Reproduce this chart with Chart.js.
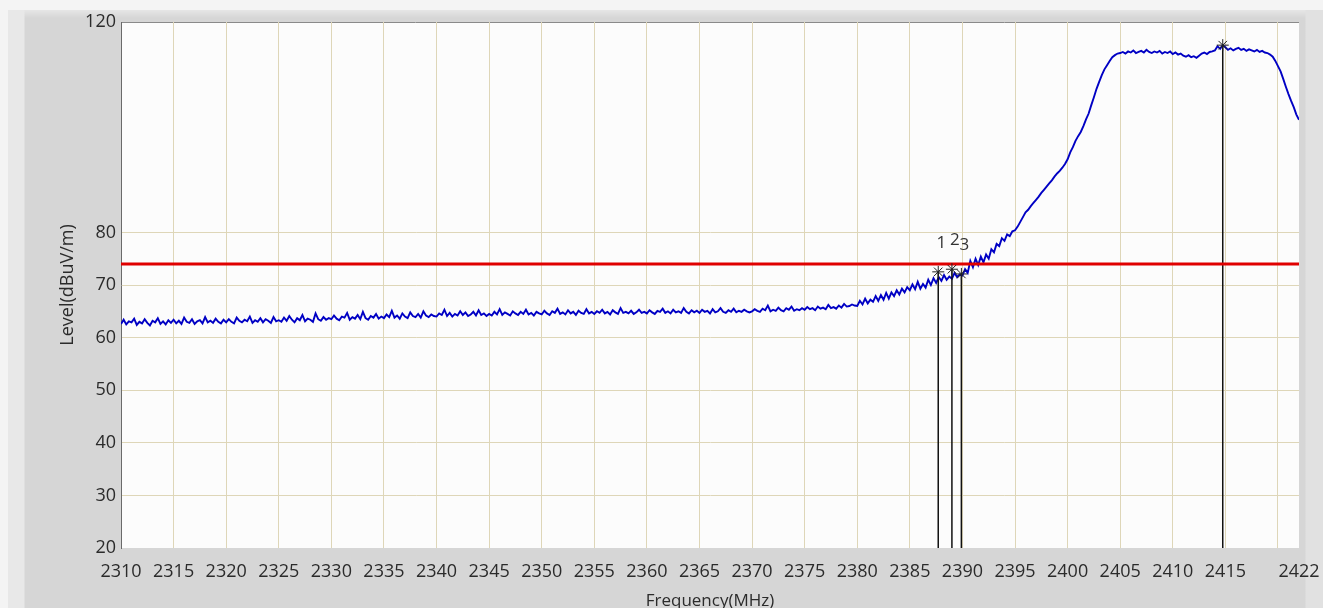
<!DOCTYPE html>
<html>
<head>
<meta charset="utf-8">
<script src="https://cdn.jsdelivr.net/npm/chart.js@4.4.1/dist/chart.umd.min.js"></script>
<style>
  html, body { margin: 0; padding: 0; }
  body { width: 1323px; height: 608px; overflow: hidden; position: relative; background: #f4f4f4; }
  #frame {
    position: absolute; left: 8px; top: 10px; width: 1315px; height: 598px;
    background:
      linear-gradient(to right, #e8e8e8 0, #e8e8e8 16px, rgba(0,0,0,0) 17px),
      linear-gradient(to right, rgba(0,0,0,0) 1297px, #e1e1e1 1298px),
      linear-gradient(to bottom, #e6e6e6 0, #d6d6d6 8px);
  }
  canvas { position: absolute; left: 0; top: 0; }
</style>
</head>
<body>
<div id="frame"></div>
<canvas id="spectrum" width="1323" height="608"></canvas>
<script>
/*
 * Sweep: 2310 MHz upward, one reading every 0.25 MHz
 */
const startFreq = 2310
const stepMHz = 0.25
const levels = [
  62.6, 63.4, 62.5, 63.1, 62.9, 63.6, 62.4, 63.0, 62.7, 63.5, 62.8, 62.3, 63.2, 62.9, 63.7, 62.6, 63.1, 62.5, 63.3, 62.8,
  63.4, 62.7, 63.2, 62.6, 63.8, 63.0, 62.8, 63.5, 62.6, 63.1, 63.3, 62.7, 63.9, 62.9, 63.2, 62.8, 63.6, 63.0, 62.7, 63.4,
  62.9, 63.5, 63.0, 62.7, 63.8, 63.2, 62.9, 63.4, 63.1, 64.0, 62.8, 63.3, 63.0, 63.7, 62.9, 63.5, 63.2, 62.8, 63.9, 63.1,
  63.3, 63.0, 63.8, 63.2, 64.1, 63.4, 62.9, 63.7, 63.3, 64.3, 63.1, 63.6, 63.4, 63.0, 64.6, 63.5, 63.2, 63.9, 63.4, 63.7,
  63.5, 64.2, 63.6, 63.3, 64.0, 63.8, 64.7, 63.4, 63.9, 63.6, 64.3, 63.5, 64.9, 63.7, 63.4, 64.1, 63.8, 64.5, 63.6, 64.0,
  63.7, 64.4, 63.9, 65.1, 63.8, 64.2, 63.6, 64.6, 64.0, 63.7, 64.8, 64.1, 63.9, 64.5, 63.8, 65.0, 64.2, 63.9, 64.4, 64.1,
  64.0, 64.6, 64.3, 65.3, 64.1, 64.7, 64.0, 64.5, 64.2, 65.0, 64.3, 64.8, 64.1, 64.4, 64.9, 64.2, 65.2, 64.3, 64.6, 64.1,
  64.5, 64.2, 64.9, 64.4, 65.4, 64.3, 64.8, 64.5, 64.2, 65.0, 64.6, 64.3, 64.9, 64.5, 65.3, 64.4, 64.7, 64.2, 64.9, 64.6,
  64.4, 65.1, 64.6, 64.3, 65.0, 64.7, 65.5, 64.5, 64.8, 64.4, 65.2, 64.6, 64.9, 64.3, 65.1, 64.7, 64.5, 65.4, 64.6, 64.9,
  64.5, 65.0, 64.7, 65.3, 64.6, 64.9, 64.4, 65.2, 64.8, 64.5, 65.6, 64.7, 64.9, 64.6, 65.1, 64.5, 64.8, 65.3, 64.7, 64.9,
  64.6, 65.2, 64.8, 64.5, 65.1, 64.9, 65.5, 64.7, 65.0, 64.6, 65.3, 64.8, 65.0, 64.7, 65.6, 64.9, 64.6, 65.2, 64.8, 65.1,
  64.7, 65.3, 64.9, 65.1, 64.6, 65.4, 64.8, 65.0, 65.6, 64.9, 64.7, 65.2, 64.9, 65.5, 64.8, 65.1, 64.9, 65.3, 65.0, 64.8,
  65.0, 65.4, 65.1, 64.9, 65.5, 65.2, 66.1, 65.0, 65.3, 65.1, 65.7, 65.2, 65.0, 65.6, 65.3, 65.9, 65.1, 65.4, 65.2, 65.6,
  65.3, 65.8, 65.4, 65.6, 65.2, 65.9, 65.5, 65.7, 65.4, 66.2, 65.6, 65.8, 65.5, 66.1, 65.7, 66.4, 65.9, 66.0, 66.3, 66.1,
  66.0, 67.0, 66.3, 67.4, 66.5, 67.2, 66.8, 67.9, 67.0, 68.1, 67.2, 68.5, 67.4, 68.6, 67.9, 69.0, 68.2, 69.3, 68.6, 69.6,
  69.0, 70.1, 69.2, 70.6, 69.3, 70.2, 69.5, 71.0, 70.0, 71.3, 70.4, 71.5, 70.8, 71.9, 71.0, 71.6, 71.2, 72.3, 71.5, 72.0,
  71.8, 73.0, 72.3, 74.6, 73.4, 75.0, 73.8, 75.4, 74.3, 75.8, 75.0, 76.8, 76.2, 77.8, 77.4, 78.9, 78.4, 79.6, 79.3, 80.2,
  80.4, 81.1, 82.0, 82.9, 83.8, 84.3, 85.0, 85.6, 86.2, 86.8, 87.5, 88.1, 88.7, 89.3, 89.9, 90.6, 91.2, 91.7, 92.3, 93.0,
  93.9, 95.2, 96.2, 97.4, 98.3, 99.1, 100.2, 101.5, 102.6, 104.2, 105.7, 107.3, 108.6, 109.9, 111.0, 111.8, 112.6, 113.3, 113.7, 114.0,
  114.1, 114.3, 114.0, 114.4, 114.2, 114.6, 114.1, 114.3, 114.5, 114.2, 114.7, 114.3, 114.1, 114.4, 114.2, 114.5, 114.0, 114.3, 114.1, 114.4,
  113.9, 114.2, 113.8, 114.0, 113.6, 113.4, 113.7, 113.3, 113.5, 113.2, 113.6, 114.0, 114.2, 113.9, 114.3, 114.4, 114.6, 115.4, 114.9, 115.6,
  115.2, 114.7, 115.0, 114.6, 114.9, 115.1, 114.7, 114.9, 114.5, 114.8, 114.6, 114.4, 114.7, 114.3, 114.5, 114.2, 114.1, 113.8, 113.4, 112.6,
  111.6, 110.6, 109.2, 107.7, 106.3, 105.0, 103.8, 102.4, 101.4
]

// limit line and the four markers
const limitLevel = 74
const markerFreqs = [2387.7, 2389.0, 2389.9, 2414.75]
const markerLevels = [72.5, 73.0, 72.1, 115.6]
const markerLabels = ['1', '2', '3', '']

// axes
const xTickValues = [2310, 2315, 2320, 2325, 2330, 2335, 2340, 2345, 2350, 2355, 2360, 2365,
  2370, 2375, 2380, 2385, 2390, 2395, 2400, 2405, 2410, 2415, 2420, 2422]
const xTickLabels = ['2310', '2315', '2320', '2325', '2330', '2335', '2340', '2345', '2350', '2355', '2360', '2365',
  '2370', '2375', '2380', '2385', '2390', '2395', '2400', '2405', '2410', '2415', '', '2422']
const yTickValues = [20, 30, 40, 50, 60, 70, 80, 120]

const fontFamily = "'Open Sans', 'Noto Sans', sans-serif"
const gridColour = 'rgb(222, 214, 184)'

const trace = levels.map((v, i) => ({ x: startFreq + i * stepMHz, y: v }))

const markerLines = markerFreqs.map((f, i) => ({
  data: [{ x: f, y: markerLevels[i] }, { x: f, y: 20 }],
  borderColor: '#111',
  borderWidth: 1.5,
  pointRadius: 0,
  order: 2
}))

/*
 * White plot area with a thin top edge
 */
const plotBackground = {
  id: 'plotBackground',
  beforeDraw(chart) {
    const { ctx, chartArea: a } = chart
    ctx.save()
    ctx.fillStyle = '#fcfcfc'
    ctx.fillRect(a.left, a.top, a.right - a.left, a.bottom - a.top)
    ctx.strokeStyle = '#8a8a8a'
    ctx.lineWidth = 1
    ctx.beginPath()
    ctx.moveTo(a.left, a.top + 0.5)
    ctx.lineTo(a.right, a.top + 0.5)
    ctx.stroke()
    ctx.restore()
  }
}

/*
 * Marker numbers above each asterisk
 */
const markerNumbers = {
  id: 'markerNumbers',
  afterDatasetsDraw(chart) {
    const { ctx, scales } = chart
    ctx.save()
    ctx.font = '17px ' + fontFamily
    ctx.fillStyle = '#333'
    ctx.textAlign = 'center'
    ctx.textBaseline = 'middle'
    markerLabels.forEach((label, i) => {
      if (!label) return
      const x = scales.x.getPixelForValue(markerFreqs[i]) + 3
      const y = scales.y.getPixelForValue(markerLevels[i]) - 29
      ctx.fillText(label, x, y)
    })
    ctx.restore()
  }
}

const spectrumChart = new Chart(document.getElementById('spectrum').getContext('2d'), {
  type: 'line',
  data: {
    datasets: [
      {
        data: markerFreqs.map((f, i) => ({ x: f, y: markerLevels[i] })),
        showLine: false,
        pointStyle: 'star',
        pointRadius: 6,
        pointBorderColor: '#222',
        pointBorderWidth: 1,
        order: 0
      },
      {
        data: [{ x: 2310, y: limitLevel }, { x: 2422, y: limitLevel }],
        borderColor: '#e00000',
        borderWidth: 3,
        pointRadius: 0,
        order: 1
      },
      ...markerLines,
      {
        data: trace,
        borderColor: '#0000c4',
        borderWidth: 1.9,
        pointRadius: 0,
        tension: 0,
        order: 3
      }
    ]
  },
  options: {
    responsive: false,
    animation: false,
    events: [],
    layout: { padding: { top: 22, right: 24, bottom: 0, left: 57 } },
    plugins: {
      legend: { display: false },
      tooltip: { enabled: false }
    },
    scales: {
      x: {
        type: 'linear',
        min: 2310,
        max: 2422,
        afterBuildTicks: scale => { scale.ticks = xTickValues.map(v => ({ value: v })) },
        afterFit: scale => {
          scale.height = 60
          scale.paddingLeft = 0
          scale.paddingRight = 0
        },
        ticks: {
          autoSkip: false,
          maxRotation: 0,
          padding: 13,
          color: '#2b2b2b',
          font: { family: fontFamily, size: 18 },
          callback: (value, index) => xTickLabels[index]
        },
        grid: {
          drawTicks: false,
          color: ctx => (ctx.tick && (ctx.tick.value === 2310 || ctx.tick.value === 2422)) ? 'rgba(0,0,0,0)' : gridColour
        },
        border: { display: false },
        title: {
          display: true,
          text: 'Frequency(MHz)',
          color: '#2b2b2b',
          padding: { top: 0, bottom: -3 },
          font: { family: fontFamily, size: 17 }
        }
      },
      y: {
        min: 20,
        max: 120,
        afterBuildTicks: scale => { scale.ticks = yTickValues.map(v => ({ value: v })) },
        afterFit: scale => {
          scale.width = 64
          scale.paddingTop = 0
          scale.paddingBottom = 0
        },
        ticks: {
          padding: 5,
          color: '#2b2b2b',
          font: { family: fontFamily, size: 18 }
        },
        grid: {
          drawTicks: false,
          color: ctx => (ctx.tick && (ctx.tick.value === 20 || ctx.tick.value === 120)) ? 'rgba(0,0,0,0)' : gridColour
        },
        border: { display: true, color: '#6a6a6a', width: 1 },
        title: {
          display: true,
          text: 'Level(dBuV/m)',
          color: '#2b2b2b',
          padding: 0,
          font: { family: fontFamily, size: 18 }
        }
      }
    }
  },
  plugins: [plotBackground, markerNumbers]
})
</script>
</body>
</html>
